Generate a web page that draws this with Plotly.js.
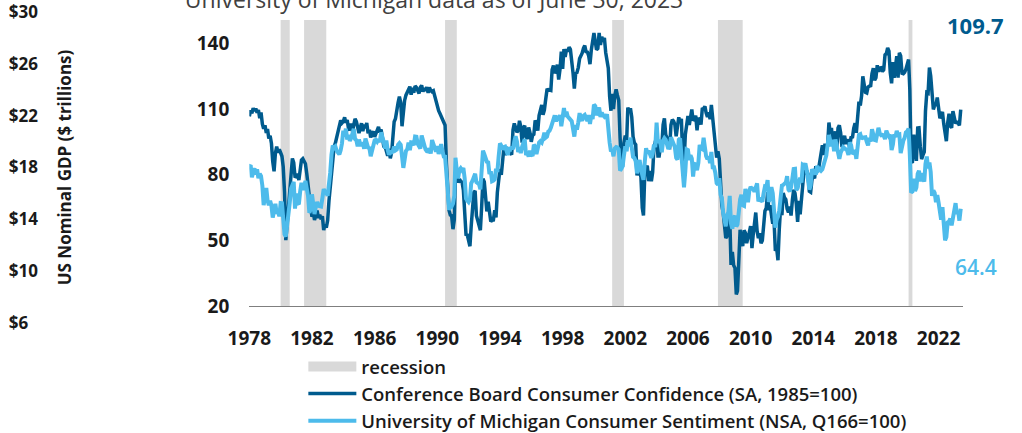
<!DOCTYPE html>
<html><head><meta charset="utf-8">
<script src="https://cdn.plot.ly/plotly-3.0.1.min.js"></script>
<style>html,body{margin:0;padding:0;background:#fff}#chart{width:1022px;height:433px}</style>
</head><body><div id="chart"></div>
<script>
// ---- data (monthly, starting January 1978) ----
const startYear = 1978;
const cbValues = [
 106.6,109.4,108.0,110.3,109.1,110.2,108.3,109.5,105.8,108.4,103.2,101.0, // 1978
 102.5,99.0,100.9,96.5,97.8,94.2,86.0,81.5,89.8,92.8,90.1,91.5,            // 1979
 90.0,88.4,83.6,72.0,50.1,57.6,66.5,74.5,81.3,87.4,85.5,79.2,              // 1980
 79.0,80.5,77.5,84.2,86.7,87.3,86.0,85.0,80.5,74.5,70.1,64.9,              // 1981
 60.8,62.5,59.3,62.3,63.6,60.2,61.7,59.6,61.0,54.7,57.3,55.8,              // 1982
 59.0,68.0,74.6,82.0,86.7,92.8,94.5,97.2,99.6,101.5,104.8,103.6,           // 1983
 104.3,106.2,103.7,105.0,101.2,100.3,103.4,99.8,103.1,105.5,104.2,101.1,   // 1984
 99.0,101.6,103.5,99.9,102.8,101.2,103.6,98.9,100.5,97.0,98.6,99.8,        // 1985
 97.3,99.6,100.2,101.8,99.2,100.6,96.4,93.0,92.8,90.2,88.6,91.8,           // 1986
 87.5,90.0,96.5,104.2,105.5,110.2,112.8,115.6,113.0,102.1,108.5,113.9,     // 1987
 116.3,117.8,118.6,120.2,116.5,119.7,117.4,120.5,119.8,118.2,117.1,119.8,  // 1988
 120.8,117.9,119.5,118.3,120.0,117.4,119.8,118.5,117.9,118.3,115.8,113.4,  // 1989
 110.9,109.2,108.0,106.8,105.3,103.8,102.6,85.2,72.8,63.8,61.5,61.2,       // 1990
 55.1,59.4,81.1,79.4,76.4,78.0,76.9,76.6,72.9,60.1,52.7,52.5,              // 1991
 50.2,47.3,56.5,65.1,71.9,72.6,61.2,59.0,56.4,54.6,65.6,78.1,              // 1992
 76.7,68.5,63.2,67.6,61.9,58.6,59.2,59.3,63.8,60.5,71.9,79.8,              // 1993
 82.6,79.9,86.7,92.1,88.9,92.5,91.3,90.4,89.5,89.1,100.4,103.4,            // 1994
 101.4,99.4,100.2,104.6,102.0,94.6,101.4,102.4,97.3,96.3,101.6,99.2,       // 1995
 95.0,98.0,98.4,104.8,103.5,100.1,107.0,109.4,111.8,107.3,109.5,114.2,     // 1996
 118.7,118.9,118.5,118.5,127.9,129.9,126.3,127.6,130.2,123.4,128.1,136.2,  // 1997
 128.3,137.4,133.8,137.2,136.3,138.2,137.2,133.1,126.4,119.3,126.4,126.7,  // 1998
 128.9,133.1,134.0,135.5,137.7,139.0,136.2,136.0,134.2,130.5,137.0,141.7,  // 1999
 144.7,140.8,137.1,137.7,144.7,139.2,143.0,140.8,142.5,135.8,132.6,128.6,  // 2000
 115.7,109.2,116.9,109.9,116.1,118.9,116.3,114.0,97.0,85.3,84.9,94.6,      // 2001
 97.8,95.0,110.7,108.5,110.3,106.3,97.4,94.5,93.7,79.6,84.9,80.7,          // 2002
 78.8,64.8,61.4,81.0,83.6,83.5,77.0,81.7,77.0,81.1,92.5,94.8,              // 2003
 97.7,88.5,88.5,93.0,93.1,102.8,105.7,98.2,96.8,92.9,92.6,102.7,           // 2004
 105.1,104.4,103.0,97.5,103.1,106.2,103.6,105.5,87.5,85.2,98.3,103.8,      // 2005
 106.8,102.7,107.5,109.8,104.7,105.4,107.0,100.2,105.9,105.1,102.9,110.0,  // 2006
 110.2,111.2,108.2,106.3,108.5,105.3,111.9,105.6,99.5,95.2,87.8,90.6,      // 2007
 87.3,76.4,65.9,62.8,58.1,51.0,51.9,58.5,61.4,38.8,44.7,38.6,              // 2008
 37.4,25.3,26.9,40.8,54.8,49.3,47.4,54.5,53.4,48.7,50.6,53.6,              // 2009
 56.5,46.4,52.3,57.7,62.7,54.3,51.0,53.2,48.6,49.9,57.8,63.4,              // 2010
 64.8,72.0,63.8,66.0,61.7,57.6,59.2,45.2,46.4,40.9,55.2,64.8,              // 2011
 61.5,71.6,69.5,68.7,64.4,62.7,65.4,61.3,68.4,73.1,71.5,66.7,              // 2012
 58.4,68.0,61.9,69.0,76.2,82.1,81.0,81.8,80.2,72.4,72.0,77.5,              // 2013
 79.4,78.3,83.9,81.7,82.2,86.4,90.3,93.4,89.0,94.1,91.0,93.1,              // 2014
 103.8,98.8,101.4,94.3,94.6,99.8,91.0,101.3,102.6,99.1,92.6,96.3,          // 2015
 97.8,94.0,96.1,94.7,92.4,97.4,96.7,101.1,103.5,99.1,109.4,113.3,          // 2016
 111.6,116.1,124.9,119.4,117.6,117.3,120.0,120.4,120.6,126.2,128.6,123.1,  // 2017
 124.3,130.0,127.0,128.7,128.8,127.1,127.9,134.7,135.3,137.9,136.4,126.6,  // 2018
 121.7,131.4,124.2,129.2,134.1,124.3,135.7,134.2,126.3,126.1,126.8,128.2,  // 2019
 130.4,132.6,118.8,85.7,85.9,98.3,91.7,86.3,101.3,101.4,92.9,87.1,         // 2020
 88.9,90.4,109.0,117.5,117.2,128.9,125.1,113.8,109.8,111.6,111.9,115.2,    // 2021
 111.1,105.7,107.6,108.6,103.2,98.4,95.3,103.6,107.8,102.2,101.4,109.0,    // 2022
 106.0,103.4,104.0,103.7,102.5,109.7                                       // 2023
];
const umValues = [
 83.7,84.3,78.8,81.6,82.9,80.0,82.4,78.4,80.4,79.3,75.0,66.1,   // 1978
 72.1,73.9,68.4,66.0,68.1,65.8,60.4,64.5,66.7,62.1,63.3,61.0,   // 1979
 67.0,66.9,56.5,52.7,51.7,58.7,62.3,67.3,73.7,75.0,76.7,64.5,   // 1980
 71.4,66.9,66.5,72.4,76.3,73.1,74.1,77.2,73.1,70.3,62.5,64.3,   // 1981
 71.0,66.5,62.0,65.5,67.5,65.7,65.4,65.4,69.3,73.4,72.1,71.9,   // 1982
 70.4,74.6,80.8,89.1,93.3,92.2,92.8,90.9,89.9,89.3,91.1,94.2,   // 1983
 100.1,97.4,101.0,96.1,98.1,95.5,96.6,99.1,100.9,96.3,95.7,92.9,// 1984
 96.0,93.7,93.7,94.6,91.8,96.5,94.0,92.4,92.1,88.4,90.9,93.9,   // 1985
 95.6,95.9,95.1,96.2,94.8,99.3,97.7,94.9,91.9,95.6,91.4,89.1,   // 1986
 90.4,90.2,90.8,92.8,91.1,91.5,93.7,94.4,93.6,89.3,83.1,86.8,   // 1987
 90.8,91.6,94.6,91.2,94.8,94.7,93.4,97.4,97.3,94.1,93.0,91.9,   // 1988
 97.9,95.4,94.3,91.5,90.7,90.6,92.0,89.6,95.8,93.9,90.9,90.5,   // 1989
 93.0,89.5,91.3,93.9,90.6,88.3,88.2,76.4,72.8,63.9,66.0,65.5,   // 1990
 66.8,70.4,87.7,81.8,78.3,82.1,82.9,82.0,83.0,78.3,69.1,68.2,   // 1991
 67.5,68.8,76.0,77.2,79.2,80.4,76.6,76.1,75.6,73.3,85.3,91.0,   // 1992
 89.3,86.6,85.9,85.6,80.3,81.5,77.0,77.3,77.9,82.7,81.2,88.2,   // 1993
 94.3,93.2,91.5,92.6,92.8,91.2,89.0,91.7,91.5,92.7,91.6,95.1,   // 1994
 97.6,95.1,90.3,92.5,89.8,92.7,94.4,96.2,88.9,90.2,88.2,91.0,   // 1995
 89.3,88.5,93.7,92.7,89.4,92.4,94.7,95.3,94.7,96.5,99.2,96.9,   // 1996
 97.4,99.7,100.0,101.4,103.2,104.5,107.1,104.4,106.0,105.6,107.2,102.1, // 1997
 106.6,110.4,106.5,108.7,106.5,105.6,105.2,104.4,100.9,97.4,102.7,100.5, // 1998
 103.9,108.1,105.7,104.6,106.8,107.3,106.0,104.5,107.2,103.2,107.2,105.4, // 1999
 112.0,111.3,107.1,109.2,110.7,106.4,108.3,107.3,106.8,105.8,107.6,98.4,  // 2000
 94.7,90.6,91.5,88.4,92.0,92.6,92.4,91.5,81.8,82.7,83.9,88.8,   // 2001
 93.0,90.7,95.7,93.0,96.9,92.4,88.1,87.6,86.1,80.6,84.2,86.7,   // 2002
 82.4,79.9,77.6,86.0,92.1,89.7,90.9,89.3,87.7,89.6,93.7,92.6,   // 2003
 103.8,94.4,95.8,94.2,90.2,95.6,96.7,95.9,94.2,91.7,92.8,97.1,  // 2004
 95.5,94.1,92.6,87.7,86.9,96.0,96.5,89.1,76.9,74.2,81.6,91.5,   // 2005
 91.2,86.7,88.9,87.4,79.1,84.9,84.7,82.0,85.4,93.6,92.1,91.7,   // 2006
 96.9,91.3,88.4,87.1,88.3,85.3,90.4,83.4,83.4,80.9,76.1,75.5,   // 2007
 78.4,70.8,69.5,62.6,59.8,56.4,61.2,63.0,70.3,57.6,55.3,60.1,   // 2008
 61.2,56.3,57.3,65.1,68.7,70.8,66.0,65.7,73.5,70.6,67.4,72.5,   // 2009
 74.4,73.6,73.6,72.2,73.6,76.0,67.8,68.9,68.2,67.7,71.6,74.5,   // 2010
 74.2,77.5,67.5,69.8,74.3,71.5,63.7,55.8,59.5,60.8,63.7,69.9,   // 2011
 75.0,75.3,76.2,76.4,79.3,73.2,72.3,74.3,78.3,82.6,82.7,72.9,   // 2012
 73.8,77.6,78.6,76.4,84.5,84.1,85.1,82.1,77.5,73.2,75.1,82.5,   // 2013
 81.2,81.6,80.0,84.1,81.9,82.5,81.8,82.5,84.6,86.9,88.8,93.6,   // 2014
 98.1,95.4,93.0,95.9,90.7,96.1,93.1,91.9,87.2,90.0,91.3,92.6,   // 2015
 92.0,91.7,91.0,89.0,94.7,93.5,90.0,89.8,91.2,87.2,93.8,98.2,   // 2016
 98.5,96.3,96.9,97.0,97.1,95.0,93.4,96.8,95.1,100.7,98.5,95.9,  // 2017
 95.7,99.7,101.4,98.8,98.0,98.2,97.9,96.2,100.1,98.6,97.5,98.3, // 2018
 91.2,93.8,98.4,97.2,100.0,98.2,98.4,89.8,93.2,95.5,96.8,99.3,  // 2019
 99.8,101.0,89.1,71.8,72.3,78.1,72.5,74.1,80.4,81.8,76.9,80.7,  // 2020
 79.0,76.8,84.9,88.3,82.9,85.5,81.2,70.3,72.8,71.7,67.4,70.6,   // 2021
 67.2,62.8,59.4,65.2,58.4,50.0,51.5,58.2,58.6,59.9,56.8,59.7,   // 2022
 64.9,67.0,62.0,63.5,59.0,64.4                                  // 2023
];
const recessionStart = ['1980-01-01','1981-07-01','1990-07-01','2001-03-01','2007-12-01','2020-02-01'];
const recessionEnd   = ['1980-07-31','1982-11-30','1991-03-31','2001-11-30','2009-06-30','2020-04-30'];
const sentimentTicks = [20,50,80,110,140];
const gdpTicks = [6,10,14,18,22,26,30];
const seriesNames = ['recession','Conference Board Consumer Confidence (SA, 1985=100)','University of Michigan Consumer Sentiment (NSA, Q166=100)'];
const chartTitle = 'University of Michigan data as of June 30, 2023';
const gdpTitle = 'US Nominal GDP ($ trillions)';

// ---- build month dates ----
function monthDates(n){
  const out=[];
  for(let i=0;i<n;i++){
    const y=startYear+Math.floor(i/12), m=(i%12)+1;
    out.push(y+'-'+(m<10?'0':'')+m+'-01');
  }
  return out;
}
const cbDates = monthDates(cbValues.length);
const umDates = monthDates(umValues.length);
const lastCB = cbValues[cbValues.length-1];
const lastUM = umValues[umValues.length-1];

const DARK='#005b8e', LIGHT='#4dbbeb', GREY='#d9d9d9';
const FONT='"Open Sans", sans-serif';

const traces = [
  {type:'scatter', mode:'lines', x:[null], y:[null], name:seriesNames[0],
   line:{color:GREY, width:12}, hoverinfo:'skip'},
  {type:'scatter', mode:'lines', x:cbDates, y:cbValues, name:seriesNames[1],
   line:{color:DARK, width:3.5}},
  {type:'scatter', mode:'lines', x:umDates, y:umValues, name:seriesNames[2],
   line:{color:LIGHT, width:4}},
  {type:'scatter', mode:'lines', x:[], y:[], yaxis:'y2', showlegend:false, hoverinfo:'skip'}
];

const shapes = recessionStart.map((s,i)=>({
  type:'rect', xref:'x', yref:'y', x0:s, x1:recessionEnd[i], y0:20, y1:150.6,
  fillcolor:GREY, line:{width:0}, layer:'below'
}));

const layout = {
  width:1022, height:433,
  margin:{l:0, r:59, t:12, b:110, pad:0, autoexpand:false},
  paper_bgcolor:'#ffffff', plot_bgcolor:'rgba(0,0,0,0)',
  font:{family:FONT, color:'#1a1a1a'},
  title:{text:chartTitle, xref:'paper', x:0.4507, xanchor:'center',
         yref:'container', y:1, yanchor:'middle',
         font:{family:FONT, size:23, color:'#404040'}},
  showlegend:true,
  legend:{orientation:'v', x:0.315, xanchor:'left', yref:'container', y:0.1963, yanchor:'top',
          font:{family:FONT, size:18.5, weight:600, color:'#1a1a1a'}, itemwidth:48,
          bgcolor:'rgba(0,0,0,0)', tracegroupgap:0, traceorder:'normal'},
  xaxis:{type:'date', domain:[0.2589,1], range:['1978-01-01','2023-07-24'],
         anchor:'free', position:0.0547,
         showline:true, linecolor:'#7f7f7f', linewidth:1.5,
         showgrid:false, zeroline:false, ticks:'',
         tick0:'1978-01-01', dtick:'M48', tickformat:'%Y',
         ticklabelstandoff:15, ticklabeloverflow:'allow',
         tickfont:{family:FONT, size:19, weight:'bold', color:'#1a1a1a'}},
  yaxis:{domain:[0,1], range:[12.23,154.3], anchor:'x', side:'left',
         tickmode:'array', tickvals:sentimentTicks, ticktext:sentimentTicks.map(String),
         showline:false, showgrid:false, zeroline:false, ticks:'',
         ticklabelstandoff:19, ticklabeloverflow:'allow',
         tickfont:{family:FONT, size:19, weight:'bold', color:'#1a1a1a'}},
  yaxis2:{overlaying:'y', anchor:'free', position:0.008, side:'right',
          range:[6,30], tickmode:'array', tickvals:gdpTicks, ticktext:gdpTicks.map(v=>'$'+v),
          showline:false, showgrid:false, zeroline:false, ticks:'', ticklabeloverflow:'allow',
          tickfont:{family:FONT, size:17, weight:'bold', color:'#1a1a1a'},
          title:{text:gdpTitle, standoff:21, font:{family:FONT, size:17, weight:'bold', color:'#1a1a1a'}}},
  shapes:shapes,
  annotations:[
    {xref:'paper', yref:'paper', x:1.0125, y:0.958, text:String(lastCB), showarrow:false,
     xanchor:'center', yanchor:'middle', font:{family:FONT, size:22, weight:'bold', color:DARK}},
    {xref:'paper', yref:'paper', x:1.0135, y:0.180, text:String(lastUM), showarrow:false,
     xanchor:'center', yanchor:'middle', font:{family:FONT, size:21, weight:600, color:LIGHT}}
  ]
};

Plotly.newPlot('chart', traces, layout, {displayModeBar:false, staticPlot:true});
</script>
</body></html>
